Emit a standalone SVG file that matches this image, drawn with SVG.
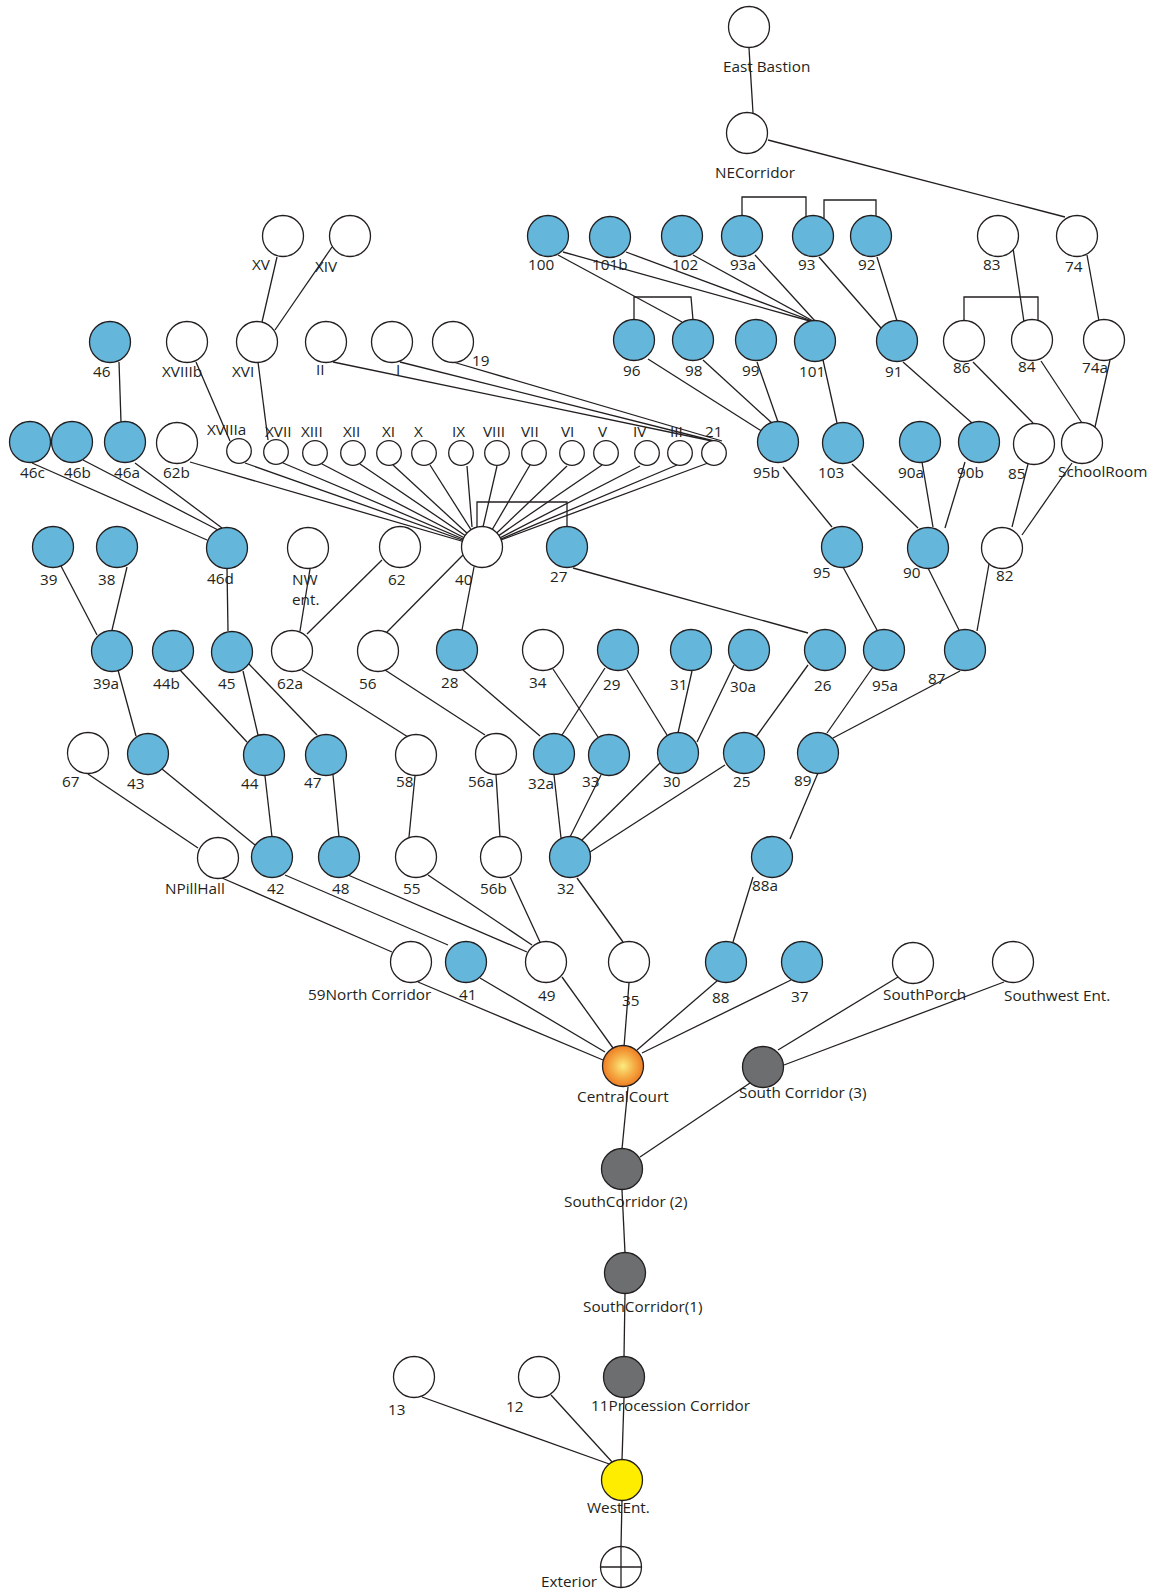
<svg xmlns="http://www.w3.org/2000/svg" width="1156" height="1593" viewBox="0 0 1156 1593">
<style>
circle{stroke:#231f20;stroke-width:1.3}
.w{fill:#fff}
.b{fill:#64b6da}
.g{fill:#6d6e70}
.y{fill:#ffed00}
.o{fill:url(#cc)}
.c line,.c path{stroke:#231f20;stroke-width:1.3;fill:none}
text{font-family:"Open Sans","Liberation Sans",sans-serif;font-size:15.3px;fill:#231f20}
</style>
<defs>
<radialGradient id="cc" cx="0.5" cy="0.5" r="0.5">
<stop offset="0" stop-color="#fbeb7f"/>
<stop offset="0.5" stop-color="#f6b24a"/>
<stop offset="1" stop-color="#ee7d22"/>
</radialGradient>
</defs>
<rect width="1156" height="1593" fill="#fff"/>
<g class="c" id="connectors">
<line x1="749" y1="48" x2="753" y2="113"/>
<line x1="768" y1="140" x2="1065" y2="217"/>
<path d="M742,216V197H806V217"/>
<path d="M824,218V200H876V216"/>
<line x1="558" y1="255" x2="682" y2="322"/>
<line x1="563" y1="252" x2="810" y2="321"/>
<line x1="626" y1="252" x2="812" y2="321"/>
<line x1="693" y1="255" x2="813" y2="321"/>
<line x1="755" y1="255" x2="815" y2="321"/>
<line x1="819" y1="257" x2="881" y2="328"/>
<line x1="877" y1="257" x2="897" y2="321"/>
<line x1="1013" y1="248" x2="1024" y2="322"/>
<line x1="1087" y1="255" x2="1099" y2="321"/>
<path d="M964,321V297H1038V321"/>
<path d="M634,320V297H691L693,320"/>
<line x1="277" y1="257" x2="262" y2="322"/>
<line x1="332" y1="247" x2="275" y2="330"/>
<line x1="119" y1="362" x2="121" y2="422"/>
<line x1="196" y1="362" x2="230" y2="441"/>
<line x1="258" y1="362" x2="268" y2="440"/>
<line x1="333" y1="362" x2="717" y2="442"/>
<line x1="400" y1="362" x2="718" y2="442"/>
<line x1="453" y1="362" x2="722" y2="441"/>
<line x1="648" y1="359" x2="763" y2="432"/>
<line x1="703" y1="360" x2="773" y2="424"/>
<line x1="757" y1="362" x2="778" y2="422"/>
<line x1="823" y1="360" x2="837" y2="423"/>
<line x1="903" y1="362" x2="972" y2="423"/>
<line x1="973" y1="362" x2="1033" y2="423"/>
<line x1="1041" y1="361" x2="1082" y2="423"/>
<line x1="1110" y1="360" x2="1095" y2="427"/>
<line x1="32" y1="463" x2="207" y2="540"/>
<line x1="83" y1="460" x2="218" y2="530"/>
<line x1="135" y1="463" x2="222" y2="528"/>
<line x1="190" y1="462" x2="482" y2="547"/>
<line x1="245" y1="463" x2="482" y2="547"/>
<line x1="283" y1="463" x2="482" y2="547"/>
<line x1="322" y1="464" x2="482" y2="547"/>
<line x1="360" y1="464" x2="482" y2="547"/>
<line x1="393" y1="465" x2="482" y2="547"/>
<line x1="430" y1="465" x2="482" y2="547"/>
<line x1="467" y1="466" x2="472" y2="527"/>
<line x1="497" y1="466" x2="483" y2="527"/>
<line x1="530" y1="465" x2="482" y2="547"/>
<line x1="567" y1="466" x2="482" y2="547"/>
<line x1="602" y1="465" x2="482" y2="547"/>
<line x1="640" y1="466" x2="482" y2="547"/>
<line x1="677" y1="465" x2="482" y2="547"/>
<line x1="708" y1="463" x2="482" y2="547"/>
<path d="M477,527V502H567V527"/>
<line x1="61" y1="566" x2="97" y2="635"/>
<line x1="127" y1="567" x2="112" y2="630"/>
<line x1="227" y1="568" x2="228" y2="631"/>
<line x1="310" y1="569" x2="300" y2="631"/>
<line x1="382" y1="560" x2="307" y2="634"/>
<line x1="463" y1="555" x2="387" y2="632"/>
<line x1="474" y1="567" x2="462" y2="630"/>
<line x1="573" y1="568" x2="808" y2="633"/>
<line x1="783" y1="467" x2="832" y2="527"/>
<line x1="852" y1="464" x2="918" y2="528"/>
<line x1="922" y1="462" x2="933" y2="527"/>
<line x1="965" y1="462" x2="945" y2="528"/>
<line x1="1028" y1="464" x2="1012" y2="527"/>
<line x1="1072" y1="463" x2="1022" y2="535"/>
<line x1="843" y1="567" x2="877" y2="630"/>
<line x1="928" y1="568" x2="959" y2="630"/>
<line x1="989" y1="564" x2="977" y2="631"/>
<line x1="118" y1="670" x2="136" y2="736"/>
<line x1="180" y1="670" x2="247" y2="742"/>
<line x1="243" y1="671" x2="258" y2="735"/>
<line x1="248" y1="663" x2="317" y2="735"/>
<line x1="302" y1="670" x2="408" y2="737"/>
<line x1="385" y1="670" x2="485" y2="735"/>
<line x1="463" y1="670" x2="540" y2="736"/>
<line x1="553" y1="669" x2="598" y2="737"/>
<line x1="605" y1="668" x2="562" y2="735"/>
<line x1="627" y1="670" x2="667" y2="735"/>
<line x1="692" y1="671" x2="678" y2="733"/>
<line x1="734" y1="665" x2="697" y2="742"/>
<line x1="808" y1="665" x2="756" y2="737"/>
<line x1="873" y1="667" x2="827" y2="733"/>
<line x1="960" y1="671" x2="833" y2="738"/>
<line x1="88" y1="774" x2="198" y2="848"/>
<line x1="162" y1="769" x2="255" y2="845"/>
<line x1="265" y1="776" x2="272" y2="837"/>
<line x1="333" y1="775" x2="339" y2="837"/>
<line x1="415" y1="776" x2="409" y2="837"/>
<line x1="496" y1="775" x2="500" y2="837"/>
<line x1="554" y1="775" x2="561" y2="838"/>
<line x1="601" y1="775" x2="570" y2="837"/>
<line x1="660" y1="763" x2="581" y2="841"/>
<line x1="725" y1="765" x2="590" y2="852"/>
<line x1="818" y1="773" x2="790" y2="839"/>
<line x1="222" y1="878" x2="392" y2="952"/>
<line x1="285" y1="875" x2="448" y2="945"/>
<line x1="348" y1="875" x2="527" y2="952"/>
<line x1="428" y1="875" x2="532" y2="945"/>
<line x1="510" y1="877" x2="540" y2="942"/>
<line x1="577" y1="878" x2="623" y2="942"/>
<line x1="753" y1="877" x2="733" y2="942"/>
<line x1="418" y1="982" x2="603" y2="1060"/>
<line x1="480" y1="978" x2="605" y2="1052"/>
<line x1="562" y1="977" x2="613" y2="1048"/>
<line x1="629" y1="983" x2="624" y2="1047"/>
<line x1="717" y1="981" x2="637" y2="1050"/>
<line x1="791" y1="980" x2="642" y2="1053"/>
<line x1="898" y1="977" x2="778" y2="1050"/>
<line x1="1004" y1="982" x2="784" y2="1065"/>
<line x1="628" y1="1087" x2="622" y2="1149"/>
<line x1="750" y1="1083" x2="640" y2="1157"/>
<line x1="622" y1="1190" x2="625" y2="1253"/>
<line x1="625" y1="1293" x2="624" y2="1357"/>
<line x1="422" y1="1397" x2="612" y2="1465"/>
<line x1="551" y1="1395" x2="613" y2="1463"/>
<line x1="624" y1="1398" x2="622" y2="1460"/>
<line x1="622" y1="1500" x2="621" y2="1547"/>
</g>
<g id="n-eastbastion"><circle class="w" cx="749" cy="27" r="20.5"/><text x="723" y="72">East Bastion</text></g>
<g id="n-necorridor"><circle class="w" cx="747" cy="133" r="20.5"/><text x="715" y="178">NECorridor</text></g>
<g id="n-100"><circle class="b" cx="548" cy="236" r="20.5"/><text x="528" y="270">100</text></g>
<g id="n-101b"><circle class="b" cx="610" cy="237" r="20.5"/><text x="592" y="270">101b</text></g>
<g id="n-102"><circle class="b" cx="682" cy="236" r="20.5"/><text x="672" y="270">102</text></g>
<g id="n-93a"><circle class="b" cx="742" cy="236" r="20.5"/><text x="730" y="270">93a</text></g>
<g id="n-93"><circle class="b" cx="813" cy="236" r="20.5"/><text x="798" y="270">93</text></g>
<g id="n-92"><circle class="b" cx="871" cy="236" r="20.5"/><text x="858" y="270">92</text></g>
<g id="n-83"><circle class="w" cx="998" cy="236" r="20.5"/><text x="983" y="270">83</text></g>
<g id="n-74"><circle class="w" cx="1077" cy="236" r="20.5"/><text x="1065" y="272">74</text></g>
<g id="n-XV"><circle class="w" cx="283" cy="236" r="20.5"/><text x="252" y="270">XV</text></g>
<g id="n-XIV"><circle class="w" cx="350" cy="236" r="20.5"/><text x="315" y="272">XIV</text></g>
<g id="n-46"><circle class="b" cx="110" cy="342" r="20.5"/><text x="93" y="377">46</text></g>
<g id="n-XVIIIb"><circle class="w" cx="187" cy="342" r="20.5"/><text x="162" y="377">XVIIIb</text></g>
<g id="n-XVI"><circle class="w" cx="257" cy="342" r="20.5"/><text x="232" y="377">XVI</text></g>
<g id="n-II"><circle class="w" cx="326" cy="342" r="20.5"/><text x="316" y="375">II</text></g>
<g id="n-I"><circle class="w" cx="392" cy="342" r="20.5"/><text x="396" y="375">I</text></g>
<g id="n-19"><circle class="w" cx="453" cy="342" r="20.5"/><text x="472" y="366">19</text></g>
<g id="n-96"><circle class="b" cx="634" cy="340" r="20.5"/><text x="623" y="376">96</text></g>
<g id="n-98"><circle class="b" cx="693" cy="340" r="20.5"/><text x="685" y="376">98</text></g>
<g id="n-99"><circle class="b" cx="756" cy="340" r="20.5"/><text x="742" y="376">99</text></g>
<g id="n-101"><circle class="b" cx="815" cy="341" r="20.5"/><text x="799" y="377">101</text></g>
<g id="n-91"><circle class="b" cx="897" cy="341" r="20.5"/><text x="885" y="377">91</text></g>
<g id="n-86"><circle class="w" cx="964" cy="341" r="20.5"/><text x="953" y="373">86</text></g>
<g id="n-84"><circle class="w" cx="1032" cy="340" r="20.5"/><text x="1018" y="372">84</text></g>
<g id="n-74a"><circle class="w" cx="1104" cy="340" r="20.5"/><text x="1082" y="373">74a</text></g>
<g id="n-46c"><circle class="b" cx="30" cy="442" r="20.5"/><text x="20" y="478">46c</text></g>
<g id="n-46b"><circle class="b" cx="72" cy="442" r="20.5"/><text x="64" y="478">46b</text></g>
<g id="n-46a"><circle class="b" cx="125" cy="442" r="20.5"/><text x="114" y="478">46a</text></g>
<g id="n-62b"><circle class="w" cx="177" cy="443" r="20.5"/><text x="163" y="478">62b</text></g>
<g id="n-XVIIIa"><circle class="w" cx="239" cy="451" r="12.3"/><text x="207" y="435">XVIIIa</text></g>
<g id="n-XVII"><circle class="w" cx="276" cy="452" r="12.3"/><text x="265" y="437">XVII</text></g>
<g id="n-XIII"><circle class="w" cx="315" cy="453" r="12.3"/><text x="301" y="437">XIII</text></g>
<g id="n-XII"><circle class="w" cx="353" cy="453" r="12.3"/><text x="343" y="437">XII</text></g>
<g id="n-XI"><circle class="w" cx="389" cy="453" r="12.3"/><text x="382" y="437">XI</text></g>
<g id="n-X"><circle class="w" cx="424" cy="453" r="12.3"/><text x="414" y="437">X</text></g>
<g id="n-IX"><circle class="w" cx="461" cy="453" r="12.3"/><text x="452" y="437">IX</text></g>
<g id="n-VIII"><circle class="w" cx="497" cy="453" r="12.3"/><text x="483" y="437">VIII</text></g>
<g id="n-VII"><circle class="w" cx="534" cy="453" r="12.3"/><text x="521" y="437">VII</text></g>
<g id="n-VI"><circle class="w" cx="572" cy="453" r="12.3"/><text x="561" y="437">VI</text></g>
<g id="n-V"><circle class="w" cx="606" cy="453" r="12.3"/><text x="598" y="437">V</text></g>
<g id="n-IV"><circle class="w" cx="647" cy="453" r="12.3"/><text x="633" y="437">IV</text></g>
<g id="n-III"><circle class="w" cx="680" cy="453" r="12.3"/><text x="670" y="437">III</text></g>
<g id="n-21"><circle class="w" cx="714" cy="453" r="12.3"/><text x="705" y="437">21</text></g>
<g id="n-95b"><circle class="b" cx="778" cy="442" r="20.5"/><text x="753" y="478">95b</text></g>
<g id="n-103"><circle class="b" cx="843" cy="443" r="20.5"/><text x="818" y="478">103</text></g>
<g id="n-90a"><circle class="b" cx="920" cy="442" r="20.5"/><text x="898" y="478">90a</text></g>
<g id="n-90b"><circle class="b" cx="979" cy="442" r="20.5"/><text x="957" y="478">90b</text></g>
<g id="n-85"><circle class="w" cx="1034" cy="444" r="20.5"/><text x="1008" y="479">85</text></g>
<g id="n-schoolroom"><circle class="w" cx="1082" cy="443" r="20.5"/><text x="1058" y="477">SchoolRoom</text></g>
<g id="n-39"><circle class="b" cx="53" cy="547" r="20.5"/><text x="40" y="585">39</text></g>
<g id="n-38"><circle class="b" cx="117" cy="547" r="20.5"/><text x="98" y="585">38</text></g>
<g id="n-46d"><circle class="b" cx="227" cy="548" r="20.5"/><text x="207" y="584">46d</text></g>
<g id="n-nwent"><circle class="w" cx="308" cy="548" r="20.5"/><text x="292" y="585">NW</text><text x="292" y="605">ent.</text></g>
<g id="n-62"><circle class="w" cx="400" cy="547" r="20.5"/><text x="388" y="585">62</text></g>
<g id="n-40"><circle class="w" cx="482" cy="547" r="20.5"/><text x="455" y="585">40</text></g>
<g id="n-27"><circle class="b" cx="567" cy="547" r="20.5"/><text x="550" y="582">27</text></g>
<g id="n-95"><circle class="b" cx="842" cy="547" r="20.5"/><text x="813" y="578">95</text></g>
<g id="n-90"><circle class="b" cx="928" cy="548" r="20.5"/><text x="903" y="578">90</text></g>
<g id="n-82"><circle class="w" cx="1002" cy="548" r="20.5"/><text x="996" y="581">82</text></g>
<g id="n-39a"><circle class="b" cx="112" cy="651" r="20.5"/><text x="93" y="689">39a</text></g>
<g id="n-44b"><circle class="b" cx="173" cy="651" r="20.5"/><text x="153" y="689">44b</text></g>
<g id="n-45"><circle class="b" cx="232" cy="652" r="20.5"/><text x="218" y="689">45</text></g>
<g id="n-62a"><circle class="w" cx="292" cy="651" r="20.5"/><text x="277" y="689">62a</text></g>
<g id="n-56"><circle class="w" cx="378" cy="651" r="20.5"/><text x="359" y="689">56</text></g>
<g id="n-28"><circle class="b" cx="457" cy="650" r="20.5"/><text x="441" y="688">28</text></g>
<g id="n-34"><circle class="w" cx="543" cy="650" r="20.5"/><text x="529" y="688">34</text></g>
<g id="n-29"><circle class="b" cx="618" cy="650" r="20.5"/><text x="603" y="690">29</text></g>
<g id="n-31"><circle class="b" cx="691" cy="650" r="20.5"/><text x="670" y="690">31</text></g>
<g id="n-30a"><circle class="b" cx="749" cy="650" r="20.5"/><text x="730" y="692">30a</text></g>
<g id="n-26"><circle class="b" cx="825" cy="650" r="20.5"/><text x="814" y="691">26</text></g>
<g id="n-95a"><circle class="b" cx="884" cy="650" r="20.5"/><text x="872" y="691">95a</text></g>
<g id="n-87"><circle class="b" cx="965" cy="650" r="20.5"/><text x="928" y="684">87</text></g>
<g id="n-67"><circle class="w" cx="88" cy="753" r="20.5"/><text x="62" y="787">67</text></g>
<g id="n-43"><circle class="b" cx="148" cy="754" r="20.5"/><text x="127" y="789">43</text></g>
<g id="n-44"><circle class="b" cx="264" cy="755" r="20.5"/><text x="241" y="789">44</text></g>
<g id="n-47"><circle class="b" cx="326" cy="755" r="20.5"/><text x="304" y="788">47</text></g>
<g id="n-58"><circle class="w" cx="416" cy="755" r="20.5"/><text x="396" y="787">58</text></g>
<g id="n-56a"><circle class="w" cx="496" cy="754" r="20.5"/><text x="468" y="787">56a</text></g>
<g id="n-32a"><circle class="b" cx="554" cy="754" r="20.5"/><text x="528" y="789">32a</text></g>
<g id="n-33"><circle class="b" cx="609" cy="755" r="20.5"/><text x="582" y="787">33</text></g>
<g id="n-30"><circle class="b" cx="678" cy="753" r="20.5"/><text x="663" y="787">30</text></g>
<g id="n-25"><circle class="b" cx="744" cy="753" r="20.5"/><text x="733" y="787">25</text></g>
<g id="n-89"><circle class="b" cx="818" cy="753" r="20.5"/><text x="794" y="786">89</text></g>
<g id="n-npillhall"><circle class="w" cx="218" cy="858" r="20.5"/><text x="165" y="894">NPillHall</text></g>
<g id="n-42"><circle class="b" cx="272" cy="857" r="20.5"/><text x="267" y="894">42</text></g>
<g id="n-48"><circle class="b" cx="339" cy="857" r="20.5"/><text x="332" y="894">48</text></g>
<g id="n-55"><circle class="w" cx="416" cy="857" r="20.5"/><text x="403" y="894">55</text></g>
<g id="n-56b"><circle class="w" cx="501" cy="857" r="20.5"/><text x="480" y="894">56b</text></g>
<g id="n-32"><circle class="b" cx="570" cy="857" r="20.5"/><text x="557" y="894">32</text></g>
<g id="n-88a"><circle class="b" cx="772" cy="857" r="20.5"/><text x="752" y="891">88a</text></g>
<g id="n-59"><circle class="w" cx="411" cy="962" r="20.5"/><text x="308" y="1000">59North Corridor</text></g>
<g id="n-41"><circle class="b" cx="466" cy="962" r="20.5"/><text x="459" y="1000">41</text></g>
<g id="n-49"><circle class="w" cx="546" cy="962" r="20.5"/><text x="538" y="1001">49</text></g>
<g id="n-35"><circle class="w" cx="629" cy="962" r="20.5"/><text x="622" y="1006">35</text></g>
<g id="n-88"><circle class="b" cx="726" cy="962" r="20.5"/><text x="712" y="1003">88</text></g>
<g id="n-37"><circle class="b" cx="802" cy="962" r="20.5"/><text x="791" y="1002">37</text></g>
<g id="n-southporch"><circle class="w" cx="913" cy="963" r="20.5"/><text x="883" y="1000">SouthPorch</text></g>
<g id="n-southwestent"><circle class="w" cx="1013" cy="962" r="20.5"/><text x="1004" y="1001">Southwest Ent.</text></g>
<g id="n-centralcourt"><circle class="o" cx="623" cy="1066" r="20.5"/><text x="577" y="1102">CentralCourt</text></g>
<g id="n-southcorridor3"><circle class="g" cx="763" cy="1067" r="20.5"/><text x="739" y="1098">South Corridor (3)</text></g>
<g id="n-southcorridor2"><circle class="g" cx="622" cy="1169" r="20.5"/><text x="564" y="1207">SouthCorridor (2)</text></g>
<g id="n-southcorridor1"><circle class="g" cx="625" cy="1273" r="20.5"/><text x="583" y="1312">SouthCorridor(1)</text></g>
<g id="n-13"><circle class="w" cx="414" cy="1377" r="20.5"/><text x="388" y="1415">13</text></g>
<g id="n-12"><circle class="w" cx="539" cy="1377" r="20.5"/><text x="506" y="1412">12</text></g>
<g id="n-11"><circle class="g" cx="624" cy="1377" r="20.5"/><text x="591" y="1411">11Procession Corridor</text></g>
<g id="n-westent"><circle class="y" cx="622" cy="1480" r="20.5"/><text x="587" y="1513">WestEnt.</text></g>
<g id="n-exterior"><circle class="w" cx="621" cy="1567" r="20.5"/><line x1="600.5" y1="1567" x2="641.5" y2="1567" stroke="#231f20" stroke-width="1.3"/><line x1="621" y1="1546.5" x2="621" y2="1587.5" stroke="#231f20" stroke-width="1.3"/><text x="541" y="1587">Exterior</text></g>
</svg>
